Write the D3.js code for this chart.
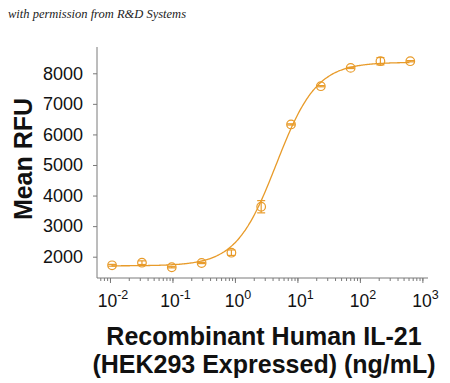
<!DOCTYPE html>
<html><head><meta charset="utf-8">
<script src="https://cdn.jsdelivr.net/npm/d3@7"></script>
<style>
html,body{margin:0;padding:0;background:#fff;}
svg{display:block;}
text{font-family:"Liberation Sans",Arial,sans-serif;}
</style></head>
<body>
<script>
// ---- data ----
const concentrations = [0.0108, 0.0325, 0.0975, 0.293, 0.878, 2.63, 7.9, 23.7, 71.1, 213, 640];
const meanRFU =        [1719, 1804, 1654, 1794, 2131, 3634, 6327, 7578, 8176, 8395, 8395];
const errRFU =         [30, 60, 20, 20, 90, 200, 20, 20, 20, 120, 20];
const yTickValues = [2000, 3000, 4000, 5000, 6000, 7000, 8000];
const xTickExponents = [-2, -1, 0, 1, 2, 3];
// 4-parameter logistic fit of the curve
const fitBottom = 1700, fitTop = 8360, fitEC50 = 4.6, fitHill = 1.35;
const watermark = "with permission from R&D Systems";
const yTitle = "Mean RFU";
const xTitleLines = ["Recombinant Human IL-21", "(HEK293 Expressed) (ng/mL)"];

const W = 450, H = 383;
const color = "#E89B2A";
const axisColor = "#7a7a7a";

const svg = d3.select("body").append("svg").attr("width", W).attr("height", H);

const xMin = 0.0062, xMax = 1230;
const x = d3.scaleLog().domain([xMin, xMax]).range([97, 428]);
const y = d3.scaleLinear().domain([1303, 8860]).range([278, 47]);

// watermark
svg.append("text").attr("x", 8).attr("y", 18)
  .style("font-family", "'Liberation Serif','DejaVu Serif',serif")
  .style("font-style", "italic").style("font-size", "12.5px").attr("fill", "#222")
  .text(watermark);

// y axis
const yAxis = svg.append("g").attr("transform", `translate(${x(xMin)},0)`)
  .call(d3.axisLeft(y).tickValues(yTickValues).tickSize(4).tickPadding(10).tickFormat(d3.format("d")));
yAxis.select(".domain").attr("stroke", axisColor).attr("d", `M0,${y(8860)}V${y(1303)}`);
yAxis.selectAll(".tick line").attr("stroke", axisColor);
yAxis.selectAll(".tick text").style("font-size", "18px").attr("fill", "#111")
  .style("font-family", "'Liberation Sans',Arial,sans-serif");

// x axis with minor ticks
const minorTicks = [];
for (let e = -3; e <= 3; e++) {
  for (let m = 1; m <= 9; m++) {
    const v = m * Math.pow(10, e);
    if (v >= xMin && v <= xMax) minorTicks.push(v);
  }
}
const xAxisG = svg.append("g").attr("transform", `translate(0,${y(1303)})`);
xAxisG.call(d3.axisBottom(x).tickValues(minorTicks).tickSize(3).tickFormat(""));
xAxisG.select(".domain").attr("stroke", axisColor).attr("d", `M${x(xMin)},0H${x(xMax)}`);
xAxisG.selectAll(".tick line").attr("stroke", axisColor);
const majorG = svg.append("g").attr("transform", `translate(0,${y(1303)})`);
majorG.call(d3.axisBottom(x).tickValues(xTickExponents.map(e => Math.pow(10, e))).tickSize(5).tickFormat(""));
majorG.select(".domain").remove();
majorG.selectAll(".tick line").attr("stroke", axisColor);

// x tick labels as 10^n
const xl = svg.append("g");
xTickExponents.forEach(e => {
  const t = xl.append("text").attr("x", x(Math.pow(10, e)) + 3).attr("y", 307)
    .attr("text-anchor", "middle").attr("fill", "#111").style("font-size", "17.5px");
  t.append("tspan").text("10");
  t.append("tspan").attr("dy", -8).style("font-size", "12.5px").text(String(e));
});

// axis titles
svg.append("text").attr("transform", `translate(32,159) rotate(-90)`)
  .attr("text-anchor", "middle").style("font-size", "25px").style("font-weight", "bold")
  .attr("fill", "#111").text(yTitle);
xTitleLines.forEach((s, i) => {
  svg.append("text").attr("x", 264).attr("y", 345 + i * 28)
    .attr("text-anchor", "middle").style("font-size", "25px").style("font-weight", "bold")
    .attr("fill", "#111").text(s);
});

// fitted curve
const logs = d3.range(Math.log10(concentrations[0]), Math.log10(concentrations[concentrations.length - 1]) + 0.0001, 0.02);
const curve = logs.map(l => {
  const c = Math.pow(10, l);
  return [c, fitBottom + (fitTop - fitBottom) / (1 + Math.pow(fitEC50 / c, fitHill))];
});
svg.append("path").datum(curve)
  .attr("d", d3.line().x(d => x(d[0])).y(d => y(d[1])).curve(d3.curveBasis))
  .attr("fill", "none").attr("stroke", color).attr("stroke-width", 1.3);

// error bars
const pts = concentrations.map((c, i) => ({c, v: meanRFU[i], e: errRFU[i]}));
const eb = svg.append("g").attr("stroke", color).attr("stroke-width", 1.2).attr("fill", "none");
pts.forEach(p => {
  const cx = x(p.c);
  eb.append("line").attr("x1", cx).attr("x2", cx).attr("y1", y(p.v - p.e)).attr("y2", y(p.v + p.e));
  eb.append("line").attr("x1", cx - 4).attr("x2", cx + 4).attr("y1", y(p.v - p.e)).attr("y2", y(p.v - p.e));
  eb.append("line").attr("x1", cx - 4).attr("x2", cx + 4).attr("y1", y(p.v + p.e)).attr("y2", y(p.v + p.e));
});

// markers
svg.append("g").selectAll("circle").data(pts).join("circle")
  .attr("cx", d => x(d.c)).attr("cy", d => y(d.v)).attr("r", 4.3)
  .attr("fill", "none").attr("stroke", color).attr("stroke-width", 1.2);
</script>
</body></html>
